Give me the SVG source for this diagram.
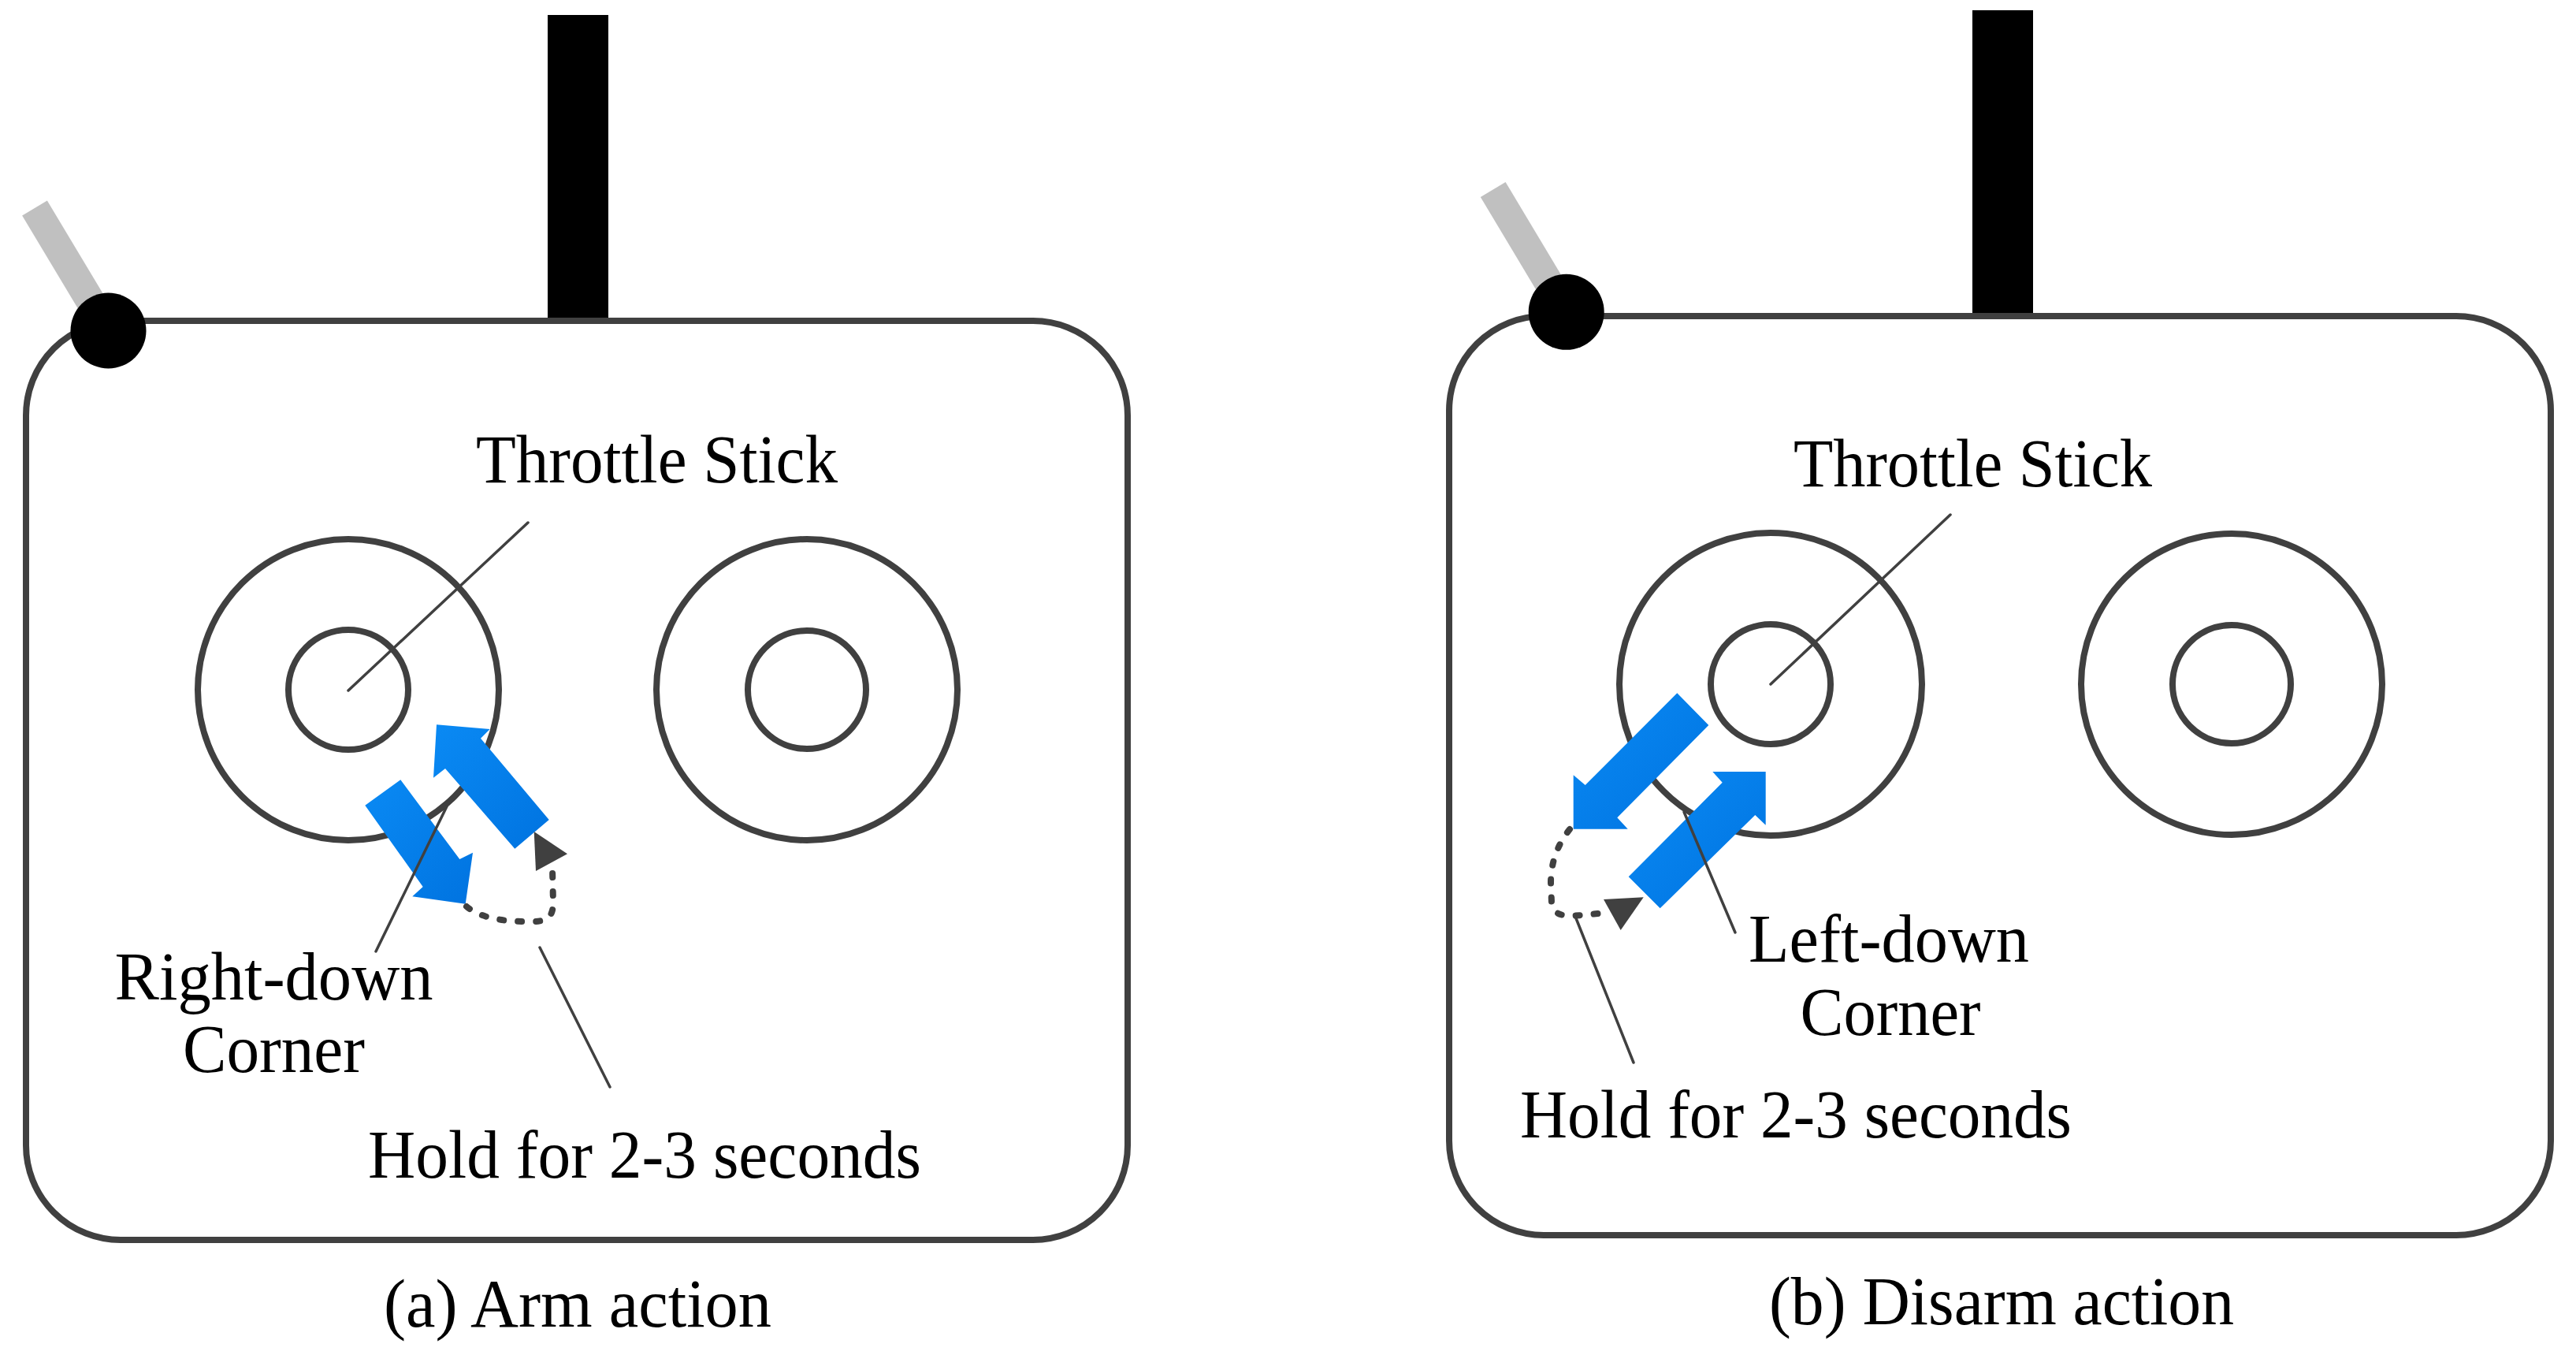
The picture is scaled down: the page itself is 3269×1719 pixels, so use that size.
<svg xmlns="http://www.w3.org/2000/svg" width="3269" height="1719" viewBox="0 0 3269 1719">
<style>
.body{fill:#ffffff;stroke:#404040;stroke-width:8}
.ring{fill:none;stroke:#404040;stroke-width:8}
.ant{fill:#000000}
.knob{fill:#000000}
.stick{stroke:#c0c0c0;stroke-width:37;stroke-linecap:butt}
.blue{fill:url(#bg)}
.lead{fill:none;stroke:#404040;stroke-width:3.5;stroke-linecap:round}
.dash{fill:none;stroke:#404040;stroke-width:8;stroke-linecap:round;stroke-dasharray:5 18}
.head{fill:#404040}
.t{font-family:"Liberation Serif","Times New Roman",serif;font-size:86px;fill:#000000}
.m{text-anchor:middle}
</style>
<defs>
<linearGradient id="bg" x1="0" y1="0" x2="1" y2="1">
<stop offset="0" stop-color="#0a8af4"/>
<stop offset="1" stop-color="#0073e0"/>
</linearGradient>
</defs>
<rect width="3269" height="1719" fill="#ffffff"/>

<!-- Panel (a) -->
<g id="a-antenna"><rect class="ant" x="695" y="19" width="77" height="390"/></g>
<g id="a-switch"><line class="stick" x1="44" y1="264" x2="137" y2="419"/></g>
<g id="a-body"><rect class="body" x="33" y="407" width="1398" height="1166" rx="120" ry="120"/></g>
<g id="a-knob"><circle class="knob" cx="137.5" cy="419.5" r="48"/></g>
<g id="a-left-gimbal">
<circle class="ring" cx="442" cy="875" r="191"/>
<circle class="ring" cx="442" cy="875" r="76"/>
</g>
<g id="a-right-gimbal">
<circle class="ring" cx="1024" cy="875" r="191"/>
<circle class="ring" cx="1024" cy="875" r="75"/>
</g>
<g id="a-arrow-down">
<polygon class="blue" points="463.3,1021.7 508.3,989.3 583.3,1090 600,1081.7 590.7,1146.7 523.3,1137.3 536.7,1125"/>
</g>
<g id="a-arrow-up">
<polygon class="blue" points="696.7,1040 653.3,1076.7 565,975 550,986.7 554,919.3 621.7,925 610,936.7"/>
</g>
<g id="a-hold-head"><polygon class="head" points="677.7,1055 680,1105 720,1083.3"/></g>

<!-- Panel (b) -->
<g id="b-antenna"><rect class="ant" x="2503" y="13" width="77" height="390"/></g>
<g id="b-switch"><line class="stick" x1="1894.7" y1="240.5" x2="1987.7" y2="395.8"/></g>
<g id="b-body"><rect class="body" x="1839" y="401" width="1398" height="1166" rx="120" ry="120"/></g>
<g id="b-knob"><circle class="knob" cx="1987.7" cy="395.8" r="48"/></g>
<g id="b-left-gimbal">
<circle class="ring" cx="2247" cy="868" r="192"/>
<circle class="ring" cx="2247" cy="868" r="76"/>
</g>
<g id="b-right-gimbal">
<circle class="ring" cx="2832" cy="868" r="191"/>
<circle class="ring" cx="2832" cy="868" r="75"/>
</g>
<g id="b-arrow-down">
<polygon class="blue" points="2128.3,879.3 2168.3,920 2052.3,1037.3 2065.7,1051.7 1996.7,1051.7 1996.7,983.3 2011.7,996"/>
</g>
<g id="b-arrow-up">
<polygon class="blue" points="2066.7,1112.3 2185.7,992.7 2173.3,979 2240.7,979 2240.7,1046.7 2227.3,1034 2106.7,1152.3"/>
</g>
<g id="b-hold-head"><polygon class="head" points="2085.7,1138.3 2035,1141 2056.7,1180"/></g>

<!-- Connectors -->
<g id="connectors">
<line class="lead" x1="670" y1="663" x2="442" y2="876"/>
<line class="lead" x1="477" y1="1207" x2="567" y2="1023"/>
<line class="lead" x1="685" y1="1202" x2="774" y2="1379"/>
<path class="dash" d="M592,1150 C610,1165 640,1170 680,1169 C697,1168 702,1160 702,1145 L701,1102"/>
<line class="lead" x1="2475" y1="653" x2="2247" y2="868"/>
<line class="lead" x1="2137" y1="1030" x2="2202" y2="1183"/>
<line class="lead" x1="2000" y1="1165" x2="2073" y2="1348"/>
<path class="dash" d="M1992,1052 C1976,1072 1968,1095 1968,1120 L1969,1145 C1970,1157 1978,1162 1995,1162 L2040,1158"/>
</g>

<!-- Labels -->
<g id="a-labels">
<text class="t" x="604" y="612" textLength="459" lengthAdjust="spacingAndGlyphs">Throttle Stick</text>
<text class="t m" x="347.5" y="1268" textLength="404" lengthAdjust="spacingAndGlyphs">Right-down</text>
<text class="t m" x="347.5" y="1360" textLength="231" lengthAdjust="spacingAndGlyphs">Corner</text>
<text class="t" x="467" y="1494" textLength="702" lengthAdjust="spacingAndGlyphs">Hold for 2-3 seconds</text>
<text class="t m" x="733" y="1683" textLength="492" lengthAdjust="spacingAndGlyphs">(a) Arm action</text>
</g>
<g id="b-labels">
<text class="t" x="2276" y="617" textLength="455" lengthAdjust="spacingAndGlyphs">Throttle Stick</text>
<text class="t m" x="2397" y="1220" textLength="356" lengthAdjust="spacingAndGlyphs">Left-down</text>
<text class="t m" x="2399" y="1313" textLength="229" lengthAdjust="spacingAndGlyphs">Corner</text>
<text class="t" x="1929" y="1443" textLength="700" lengthAdjust="spacingAndGlyphs">Hold for 2-3 seconds</text>
<text class="t m" x="2540" y="1680" textLength="590" lengthAdjust="spacingAndGlyphs">(b) Disarm action</text>
</g>
</svg>
